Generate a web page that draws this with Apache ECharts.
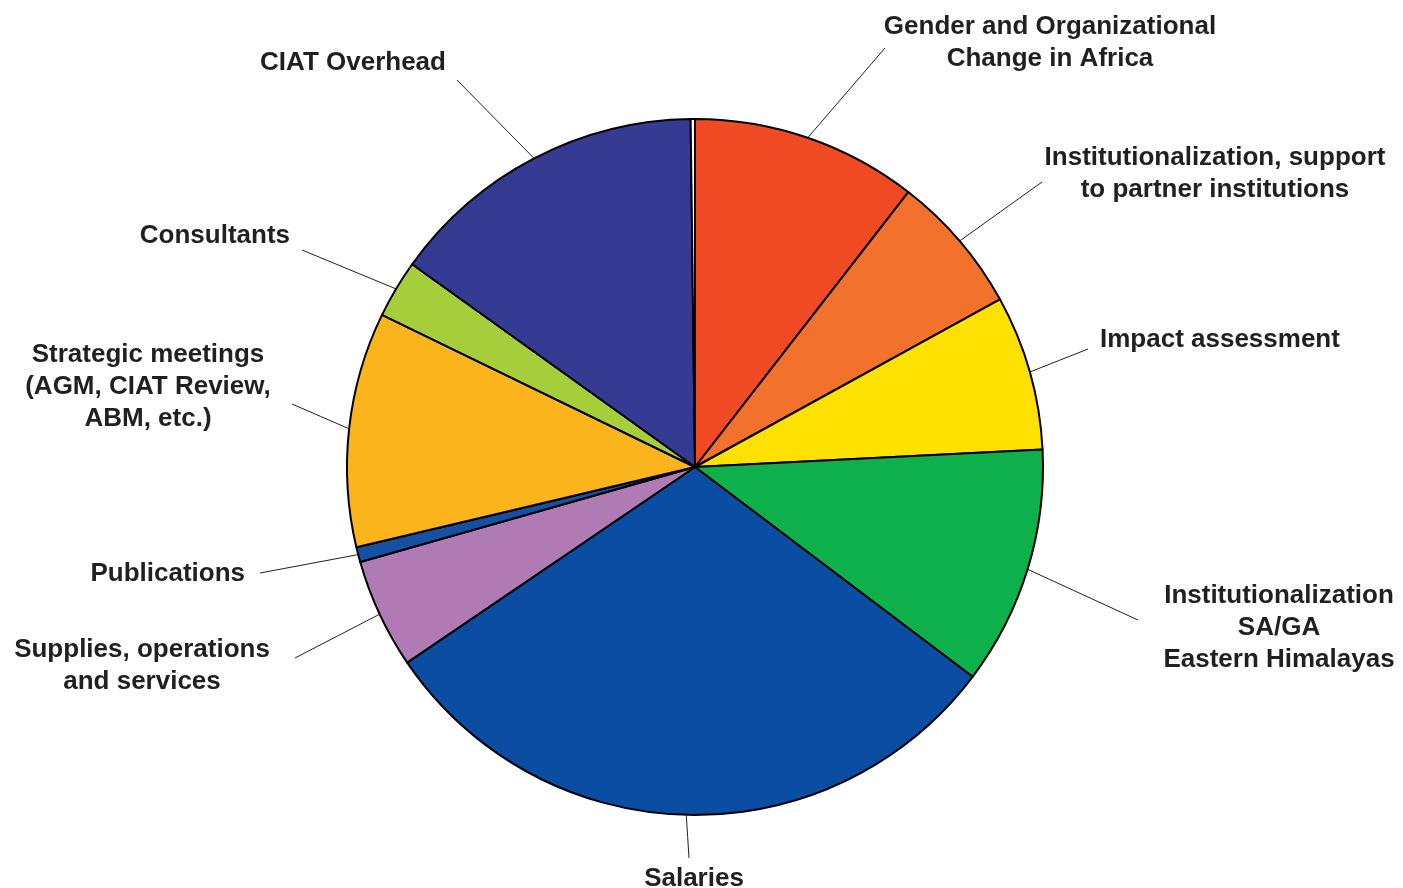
<!DOCTYPE html>
<html><head><meta charset="utf-8">
<script src="https://cdn.jsdelivr.net/npm/echarts@6/dist/echarts.min.js"></script>
<style>html,body{margin:0;padding:0;background:#fff}#c{width:1403px;height:888px}</style>
</head><body><div id="c"></div>
<script>
// ---- data ----
const categories = [
  'Gender and Organizational\nChange in Africa',
  'Institutionalization, support\nto partner institutions',
  'Impact assessment',
  'Institutionalization\nSA/GA\nEastern Himalayas',
  'Salaries',
  'Supplies, operations\nand services',
  'Publications',
  'Strategic meetings\n(AGM, CIAT Review,\nABM, etc.)',
  'Consultants',
  'CIAT Overhead',
  ''
];
const values = [10.5, 6.5, 7.2, 11.1, 30.2, 5.1, 0.7, 10.9, 2.7, 14.9, 0.2];
const colors = ['#F04A24', '#F2712D', '#FFE100', '#0DB04B', '#0B4DA2', '#B07AB4',
                '#1650A3', '#FCB41C', '#A5CE3A', '#353B93', '#FFFFFF'];

// ---- layout (label anchor x, y, align, leader end x, y) ----
const labelPos = [
  [1050, 43, 'center', 885, 48],
  [1215, 174, 'center', 1042, 182],
  [1100, 340, 'left', 1088, 349],
  [1279, 628, 'center', 1138, 620],
  [694, 879, 'center', 689, 858],
  [142, 666, 'center', 295, 658],
  [245, 574, 'right', 260, 573],
  [148, 387, 'center', 292, 404],
  [290, 236, 'right', 302, 250],
  [353, 63, 'center', 457, 80],
  null
];
const CX = 695, CY = 467, R = 348;

const total = values.reduce((a, b) => a + b, 0);
function edgePoint(i) {
  let cum = 0;
  for (let k = 0; k < i; k++) cum += values[k];
  const mid = (cum + values[i] / 2) / total * 2 * Math.PI;
  return [CX + R * Math.sin(mid), CY - R * Math.cos(mid)];
}

const chart = echarts.init(document.getElementById('c'));
chart.setOption({
  animation: false,
  backgroundColor: '#ffffff',
  series: [{
    type: 'pie',
    center: [CX, CY],
    radius: [0, R],
    startAngle: 90,
    clockwise: true,
    avoidLabelOverlap: false,
    silent: true,
    itemStyle: { borderColor: '#000000', borderWidth: 2 },
    label: {
      show: true,
      position: 'outside',
      formatter: p => p.name,
      fontFamily: '"Liberation Sans", Arial, sans-serif',
      fontWeight: 'bold',
      fontSize: 26,
      lineHeight: 32,
      color: '#231F20'
    },
    labelLine: { show: true, lineStyle: { color: '#222222', width: 1 } },
    labelLayout: function (params) {
      const lp = labelPos[params.dataIndex];
      if (!lp) return {};
      const start = edgePoint(params.dataIndex);
      const end = [lp[3], lp[4]];
      const mid = [(start[0] + end[0]) / 2, (start[1] + end[1]) / 2];
      return {
        x: lp[0], y: lp[1], align: lp[2], verticalAlign: 'middle',
        labelLinePoints: [start, mid, end]
      };
    },
    data: categories.map((c, i) => ({
      name: c,
      value: values[i],
      itemStyle: { color: colors[i] },
      label: { show: c !== '' },
      labelLine: { show: c !== '' }
    }))
  }]
});
</script>
</body></html>
